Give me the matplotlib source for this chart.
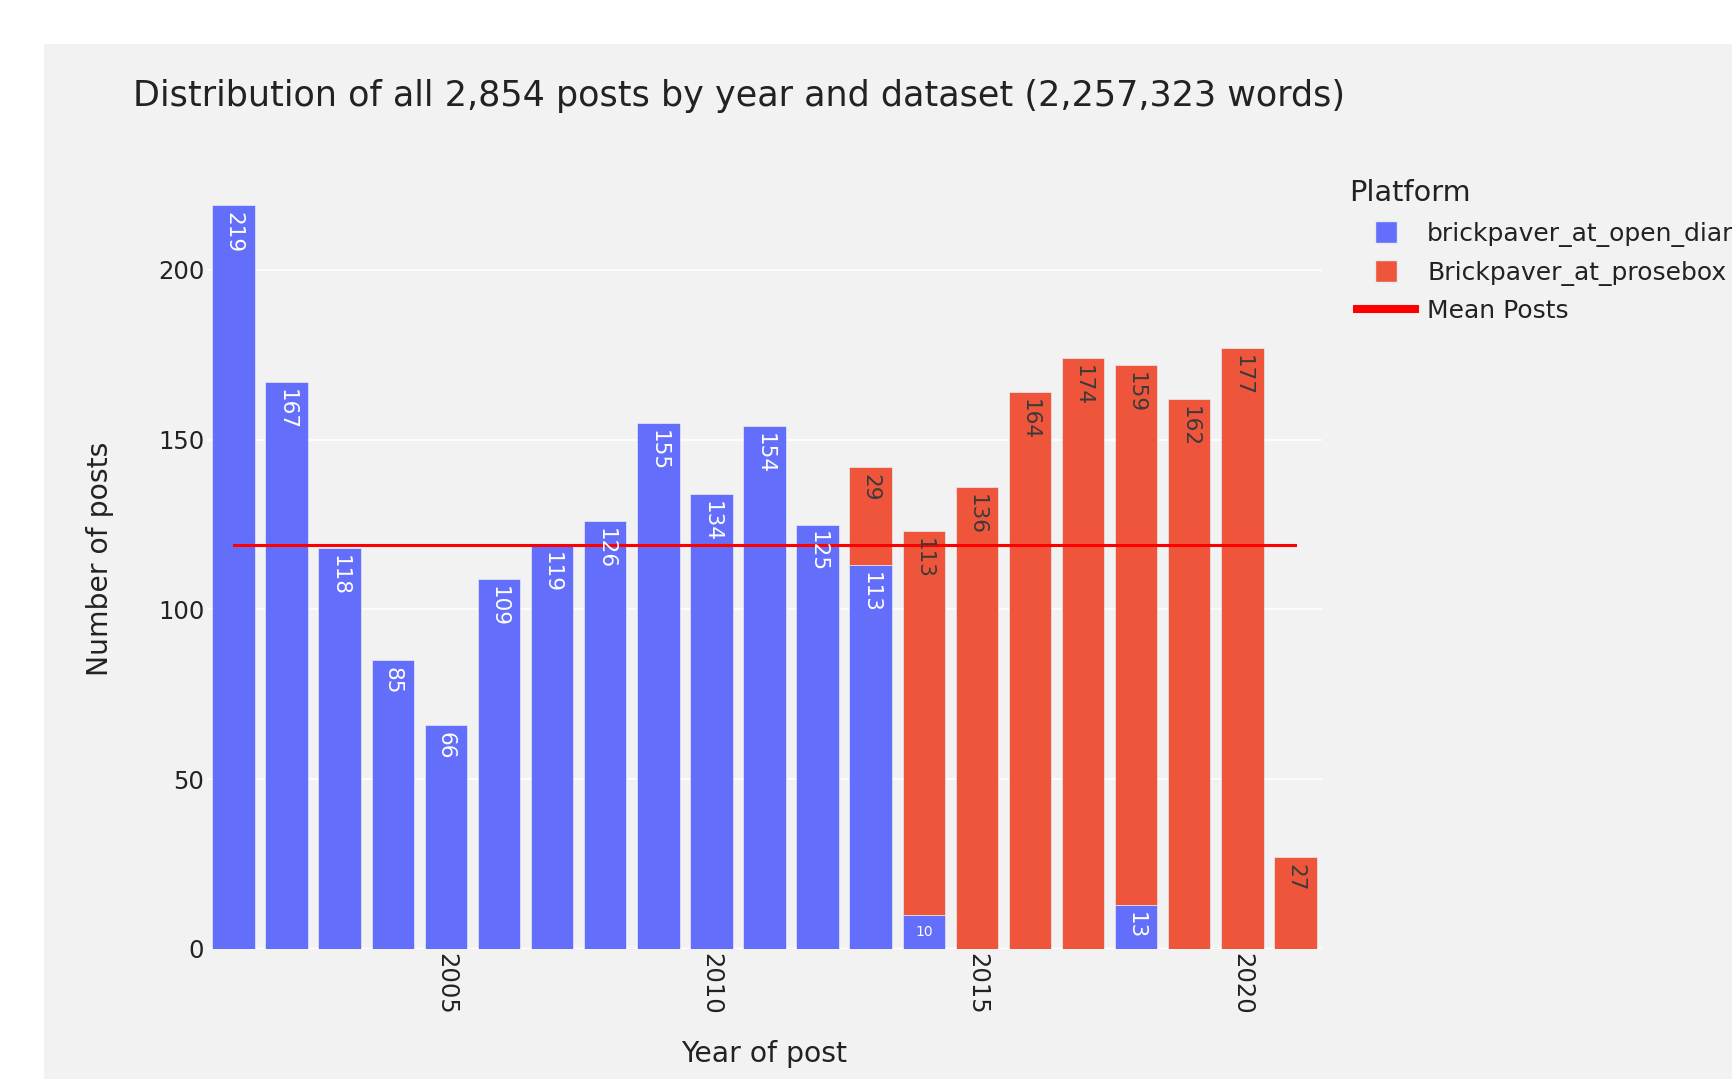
import matplotlib
matplotlib.use('Agg')
import matplotlib.pyplot as plt
from matplotlib.patches import Rectangle
from matplotlib.lines import Line2D

plt.rcParams['font.family'] = ['DejaVu Sans']

# ---- data ----
years = list(range(2001, 2022))
open_diary = [219, 167, 118, 85, 66, 109, 119, 126, 155, 134, 154, 125, 113, 10, 0, 0, 0, 13, 0, 0, 0]
prosebox = [0, 0, 0, 0, 0, 0, 0, 0, 0, 0, 0, 0, 29, 113, 136, 164, 174, 159, 162, 177, 27]
mean_posts = 118.9
series_names = ['brickpaver_at_open_diar', 'Brickpaver_at_prosebox']
legend_title = 'Platform'
x_ticks = [2005, 2010, 2015, 2020]
y_ticks = [0, 50, 100, 150, 200]
title = 'Distribution of all 2,854 posts by year and dataset (2,257,323 words)'

BLUE = '#636efa'
RED = '#ef553b'
BG = '#f2f2f2'
TXT = '#222222'

W, H = 1733, 1079
fig = plt.figure(figsize=(W / 100, H / 100), dpi=100)
fig.patch.set_facecolor('white')
fig.patches.append(Rectangle((44 / W, 0), 1, 1 - 44 / H, transform=fig.transFigure,
                             facecolor=BG, edgecolor='none', zorder=-10))

ax = fig.add_axes([207 / W, 130 / H, (1322 - 207) / W, (949 - 168) / H])
ax.set_facecolor(BG)
for s in ax.spines.values():
    s.set_visible(False)

ax.set_xlim(2000.5, 2021.5)
ax.set_ylim(0, 230)
ax.set_yticks(y_ticks)
ax.set_xticks(x_ticks)
ax.set_xticklabels([str(t) for t in x_ticks], rotation=270)
ax.tick_params(axis='both', length=0, labelsize=17.5, labelcolor=TXT)
ax.tick_params(axis='x', pad=3)
ax.tick_params(axis='y', pad=2)
ax.grid(axis='y', color='white', linewidth=1.2, zorder=0)
ax.set_axisbelow(True)
ax.axhline(0, color='white', linewidth=2.5, zorder=1)

bw = 0.8
ppu = (949 - 168) / 230.0  # pixels per unit (approx)

def label_segments(vals, bottoms, tcolor):
    for x, v, b in zip(years, vals, bottoms):
        if v <= 0:
            continue
        top = b + v
        if v * ppu < 40:
            ax.text(x, b + v / 2, str(v), ha='center', va='center', fontsize=10,
                    color=tcolor, zorder=5)
        else:
            ax.annotate(str(v), xy=(x, top), xytext=(0, -5), textcoords='offset points',
                        rotation=270, ha='center', va='top', fontsize=15.5, color=tcolor,
                        zorder=5)

blue_x = [y for y, v in zip(years, open_diary) if v > 0]
blue_v = [v for v in open_diary if v > 0]
ax.bar(blue_x, blue_v, width=bw, color=BLUE, edgecolor='#e5ecf6', linewidth=0.5, zorder=2)
red_x = [y for y, v in zip(years, prosebox) if v > 0]
red_v = [v for v in prosebox if v > 0]
red_b = [b for b, v in zip(open_diary, prosebox) if v > 0]
ax.bar(red_x, red_v, width=bw, bottom=red_b, color=RED, edgecolor='#e5ecf6', linewidth=0.5, zorder=2)

label_segments(open_diary, [0] * len(years), 'white')
label_segments(prosebox, open_diary, '#3a3a3a')

ax.plot([years[0], years[-1]], [mean_posts, mean_posts], color='red', linewidth=2.2, zorder=4)

ax.set_ylabel('Number of posts', fontsize=20.3, color=TXT)
ax.yaxis.set_label_coords(-0.083, 0.5)
ax.set_xlabel('Year of post', fontsize=20.3, color=TXT, va='top')
ax.xaxis.set_label_coords(0.5, -0.116)

fig.text(133 / W, 1 - 106 / H, title, fontsize=25.2, color=TXT, ha='left', va='baseline')

fig.text(1349 / W, 1 - 193 / H, legend_title, fontsize=20.7, color=TXT, ha='left', va='center')
handles = [
    Line2D([], [], linestyle='none', marker='s', markersize=16, markerfacecolor=BLUE,
           markeredgecolor='#e5ecf6', markeredgewidth=1),
    Line2D([], [], linestyle='none', marker='s', markersize=16, markerfacecolor=RED,
           markeredgecolor='#e5ecf6', markeredgewidth=1),
    Line2D([], [], color='red', linewidth=5.8),
]
leg = fig.legend(handles, series_names + ['Mean Posts'], loc='upper left',
                 bbox_to_anchor=(1357 / W, 1 - 222 / H), frameon=False, fontsize=18,
                 handlelength=2.32, handletextpad=0.48, labelspacing=0.54,
                 borderpad=0, borderaxespad=0)
for t in leg.get_texts():
    t.set_color(TXT)

fig.savefig('out.png', dpi=100, facecolor=fig.get_facecolor())
